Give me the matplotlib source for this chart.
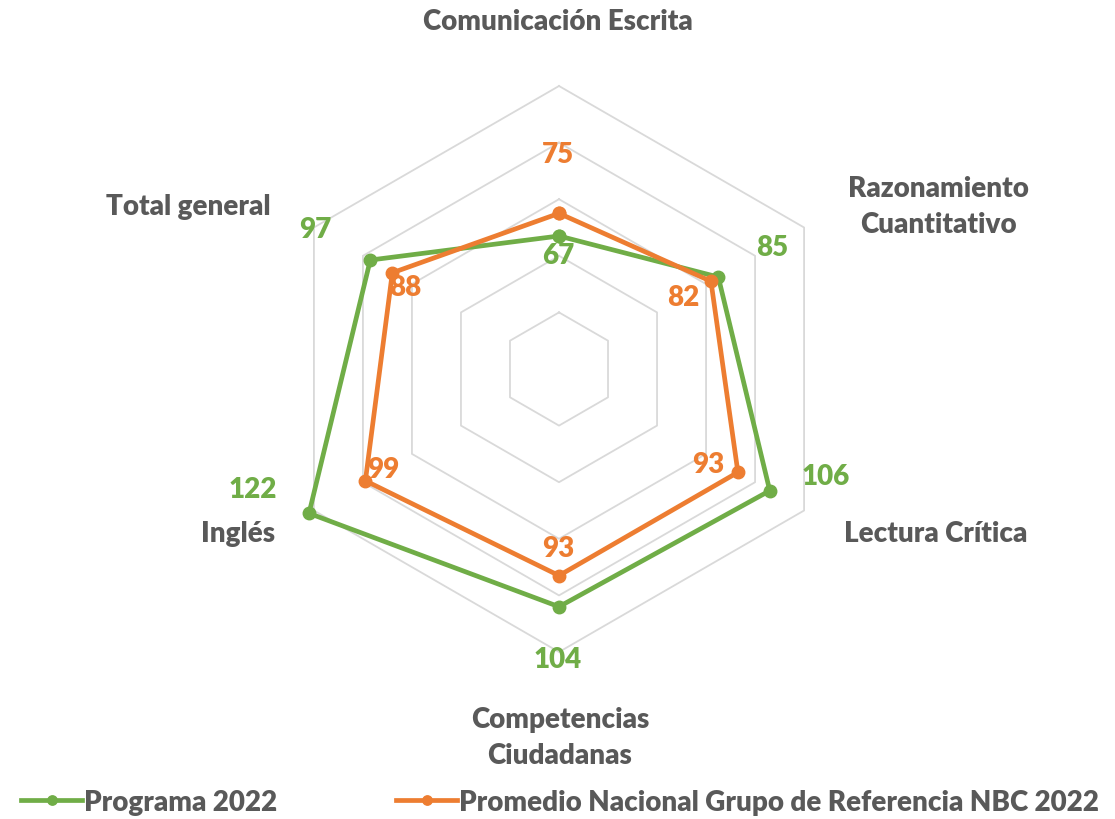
import numpy as np
import matplotlib.pyplot as plt

# categories clockwise from the top
categorias = ['Comunicación Escrita', 'Razonamiento\nCuantitativo', 'Lectura Crítica',
              'Competencias\nCiudadanas', 'Inglés', 'Total general']
programa = [67, 85, 106, 104, 122, 97]
promedio = [75, 82, 93, 93, 99, 88]
anillos = [40, 60, 80, 100, 120]
serie_prog = 'Programa 2022'
serie_prom = 'Promedio Nacional Grupo de Referencia NBC 2022'

verde = '#70AD47'
naranja = '#ED7D31'
gris = '#595959'

plt.rcParams['font.family'] = ['Lato', 'DejaVu Sans']
peso = 'heavy'

W, H = 1115, 820
fig = plt.figure(figsize=(W / 100, H / 100), dpi=100)

cx, cy = 559, 370          # chart centre in pixels (from top)
rmin, rmax = 20, 125
px_per_unit = 2.83
R = (rmax - rmin) * px_per_unit
ax = fig.add_axes([(cx - R) / W, (H - cy - R) / H, 2 * R / W, 2 * R / H], projection='polar')
ax.set_theta_offset(np.pi / 2)
ax.set_theta_direction(-1)
ax.set_ylim(rmin, rmax)
ax.grid(False)
ax.spines['polar'].set_visible(False)
ax.set_xticks([])
ax.set_yticks([])
ax.patch.set_alpha(0)

n = len(categorias)
ang = np.linspace(0, 2 * np.pi, n, endpoint=False)
ang_c = np.append(ang, ang[0])

for r in anillos:
    ax.plot(ang_c, [r] * (n + 1), color='#D9D9D9', lw=1.3, zorder=1)

ax.plot(ang_c, programa + programa[:1], color=verde, lw=3.4, marker='o', ms=9,
        zorder=3, label=serie_prog, clip_on=False)
ax.plot(ang_c, promedio + promedio[:1], color=naranja, lw=3.4, marker='o', ms=9,
        zorder=4, label=serie_prom, clip_on=False)


def px(x, y):
    return x / W, 1 - y / H


# category labels
pos_cat = [(558, 22), (938, 207), (936, 534), (560, 738), (238, 534), (188, 207)]
for lab, (x, y) in zip(categorias, pos_cat):
    fig.text(*px(x, y), lab, ha='center', va='center', color=gris, fontsize=20,
             fontweight=peso, linespacing=1.5)

# data labels
pos_prog = [(558, 256), (772, 248), (826, 477), (558, 660), (253, 490), (315, 230)]
pos_prom = [(558, 155), (683, 298), (708, 465), (558, 549), (383, 470), (405, 288)]
for v, (x, y) in zip(programa, pos_prog):
    fig.text(*px(x, y), str(v), ha='center', va='center', color=verde, fontsize=20,
             fontweight=peso)
for v, (x, y) in zip(promedio, pos_prom):
    fig.text(*px(x, y), str(v), ha='center', va='center', color=naranja, fontsize=20,
             fontweight=peso)

leg = fig.legend(loc='center', bbox_to_anchor=(0.502, 1 - 803 / H), ncol=2, frameon=False,
                 prop={'size': 20, 'weight': peso}, handlelength=2.2, handletextpad=0.05,
                 columnspacing=4.3, markerscale=0.75)
for t in leg.get_texts():
    t.set_color(gris)

fig.savefig('out.png', dpi=100, facecolor='white')
